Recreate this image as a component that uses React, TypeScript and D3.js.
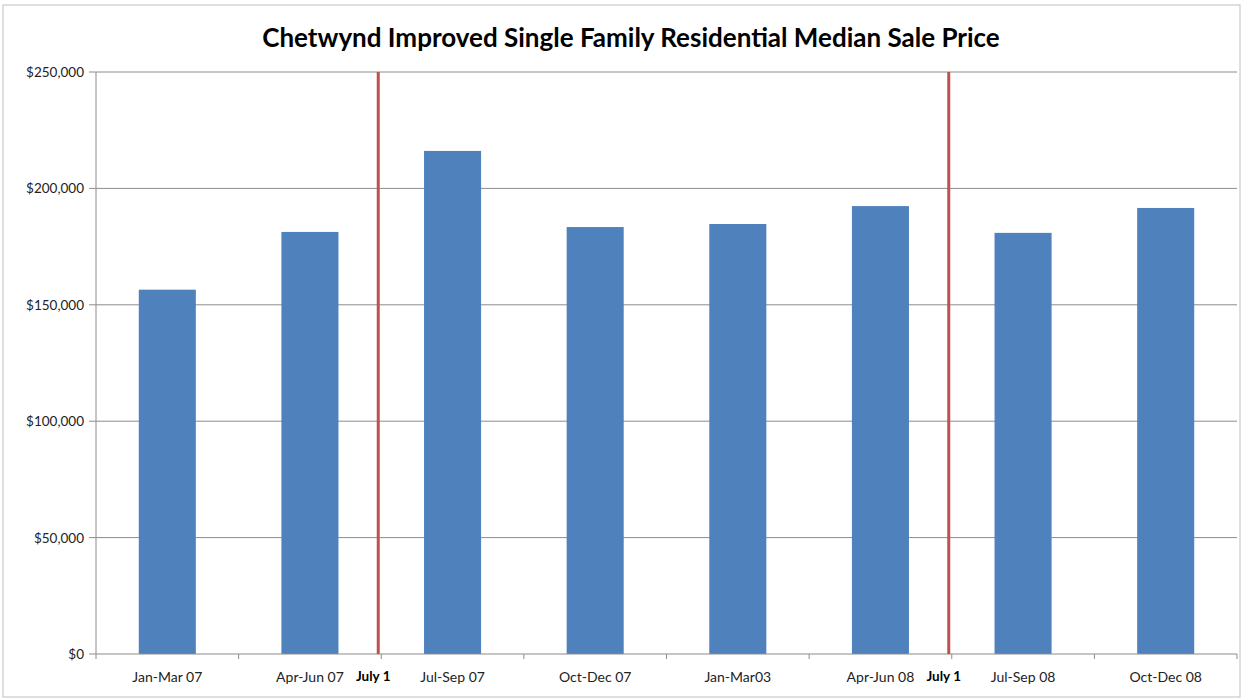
import React, { useEffect, useRef } from 'react'
import * as d3 from 'd3'

const categories = ['Jan-Mar 07', 'Apr-Jun 07', 'Jul-Sep 07', 'Oct-Dec 07', 'Jan-Mar03', 'Apr-Jun 08', 'Jul-Sep 08', 'Oct-Dec 08']
const prices = [156500, 181300, 216100, 183400, 184700, 192400, 180900, 191600]
const yTicks = [0, 50000, 100000, 150000, 200000, 250000]
// red markers sit just after these categories
const markerAfter = ['Apr-Jun 07', 'Apr-Jun 08']
const markerLabel = 'July 1'

const W = 1243
const H = 700

const App = () => {
    const svgRef = useRef<SVGSVGElement>(null)

    useEffect(() => {
        drawChart()
    }, [])

    const drawChart = () => {
        const svg = d3.select(svgRef.current)
        svg.selectAll('*').remove()

        const left = 96, right = 1237, top = 72, bottom = 654
        const x = d3.scaleBand<string>().domain(categories).range([left, right]).paddingInner(0.6).paddingOuter(0.3)
        const y = d3.scaleLinear([0, 250000], [bottom, top])
        const font = "Lato, 'Open Sans', sans-serif"

        svg.append('rect')
            .attr('x', 3).attr('y', 5).attr('width', W - 6).attr('height', H - 8)
            .attr('fill', 'white').attr('stroke', '#bfbfbf')

        svg.append('text')
            .attr('x', 631).attr('y', 47)
            .attr('text-anchor', 'middle')
            .attr('font-family', font).attr('font-weight', 'bold').attr('font-size', 26)
            .attr('fill', '#000')
            .text('Chetwynd Improved Single Family Residential Median Sale Price')

        const fmt = (v: number) => '$' + d3.format(',')(v)

        svg.append('g').selectAll('line')
            .data(yTicks.filter(t => t > 0))
            .join('line')
            .attr('x1', left - 7).attr('x2', right)
            .attr('y1', d => y(d)).attr('y2', d => y(d))
            .attr('stroke', '#8c8c8c').attr('stroke-width', 1)

        svg.append('g').selectAll('text')
            .data(yTicks)
            .join('text')
            .attr('x', left - 12).attr('y', d => y(d) + 5)
            .attr('text-anchor', 'end')
            .attr('font-family', font).attr('font-size', 13.5).attr('fill', '#222')
            .text(d => fmt(d))

        svg.append('g').selectAll('rect')
            .data(categories)
            .join('rect')
            .attr('x', d => x(d) as number)
            .attr('width', x.bandwidth())
            .attr('y', (d, i) => y(prices[i]))
            .attr('height', (d, i) => y(0) - y(prices[i]))
            .attr('fill', '#4f81bd')

        // axes
        svg.append('line')
            .attr('x1', left).attr('x2', left).attr('y1', top).attr('y2', bottom)
            .attr('stroke', '#8c8c8c')
        svg.append('line')
            .attr('x1', left - 7).attr('x2', right).attr('y1', bottom).attr('y2', bottom)
            .attr('stroke', '#8c8c8c')

        const step = x.step()
        const x0 = (x(categories[0]) as number) - (step - x.bandwidth()) / 2
        const boundaries = d3.range(categories.length + 1).map(i => x0 + i * step)
        svg.append('g').selectAll('line')
            .data(boundaries)
            .join('line')
            .attr('x1', d => d).attr('x2', d => d)
            .attr('y1', bottom).attr('y2', bottom + 5)
            .attr('stroke', '#8c8c8c')

        svg.append('g').selectAll('text')
            .data(categories)
            .join('text')
            .attr('x', d => (x(d) as number) + x.bandwidth() / 2)
            .attr('y', 682)
            .attr('text-anchor', 'middle')
            .attr('font-family', font).attr('font-size', 14).attr('fill', '#222')
            .text(d => d)

        const markerX = (c: string) => (x(c) as number) + x.bandwidth() + (step - x.bandwidth()) / 2 - 3
        svg.append('g').selectAll('line')
            .data(markerAfter)
            .join('line')
            .attr('x1', d => markerX(d)).attr('x2', d => markerX(d))
            .attr('y1', top).attr('y2', bottom)
            .attr('stroke', '#c0504d').attr('stroke-width', 3)

        svg.append('g').selectAll('text')
            .data(markerAfter)
            .join('text')
            .attr('x', d => markerX(d) - 5)
            .attr('y', 681)
            .attr('text-anchor', 'middle')
            .attr('font-family', font).attr('font-weight', 'bold').attr('font-size', 13.5).attr('fill', '#000')
            .text(markerLabel)
    }

    return (
        <div style={{ position: 'absolute', left: 0, top: 0, width: W, height: H, background: 'white' }}>
            <svg ref={svgRef} width={W} height={H} style={{ display: 'block' }}></svg>
        </div>
    )
}

export default App
